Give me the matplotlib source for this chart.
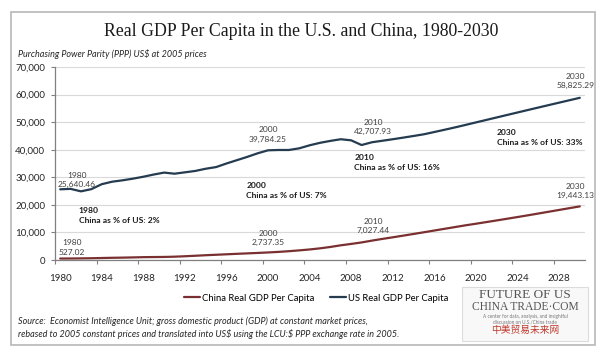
import matplotlib.pyplot as plt
from matplotlib.patches import Rectangle
from matplotlib.ticker import FuncFormatter, FixedLocator

years = list(range(1980, 2031))

us_gdp = [25640, 25800, 24900, 25700, 27500, 28400, 28900, 29500, 30200, 31000,
          31700, 31300, 31800, 32300, 33100, 33700, 35000, 36200, 37400, 38700,
          39784, 39900, 39900, 40500, 41600, 42500, 43200, 43800, 43400, 41700,
          42708, 43250, 43800, 44380, 44980, 45600, 46420, 47250, 48100, 48990,
          49900, 50800, 51700, 52600, 53500, 54400, 55290, 56180, 57060, 57940,
          58825]

china_gdp = [527, 545, 585, 640, 720, 800, 860, 940, 1030, 1070,
             1110, 1200, 1360, 1540, 1730, 1900, 2070, 2240, 2400, 2560,
             2737, 2940, 3190, 3490, 3820, 4230, 4730, 5330, 5830, 6370,
             7027, 7650, 8230, 8830, 9440, 10060, 10690, 11320, 11950, 12580,
             13150, 13750, 14350, 14960, 15580, 16200, 16850, 17500, 18150, 18800,
             19443]

# data labels: (year, value, text)
us_labels = [(1980, 25640.46, "1980\n25,640.46"), (2000, 39784.25, "2000\n39,784.25"),
             (2010, 42707.93, "2010\n42,707.93"), (2030, 58825.29, "2030\n58,825.29")]
china_labels = [(1980, 527.02, "1980\n527.02"), (2000, 2737.35, "2000\n2,737.35"),
                (2010, 7027.44, "2010\n7,027.44"), (2030, 19443.13, "2030\n19,443.13")]
share_notes = [("1980", 2), ("2000", 7), ("2010", 16), ("2030", 33)]

us_color = "#243b50"
china_color = "#7a3030"
text_gray = "#404040"

fig = plt.figure(figsize=(6.02, 3.53), dpi=100)
fig.patch.set_facecolor("white")

# outer frame
fig.patches.append(Rectangle((11 / 602, 8 / 353), 584 / 602, 333 / 353, transform=fig.transFigure,
                             fill=False, edgecolor="#b8b8b8", linewidth=1.2))

ax = fig.add_axes([55 / 602, 93 / 353, 530 / 602, 193 / 353])

ax.plot(years, china_gdp, color=china_color, lw=1.6, label="China Real GDP Per Capita", solid_capstyle="round")
ax.plot(years, us_gdp, color=us_color, lw=1.6, label="US Real GDP Per Capita", solid_capstyle="round")

ax.set_xlim(1979.5, 2030.5)
ax.set_ylim(0, 70000)
ax.set_yticks(range(0, 70001, 10000))
ax.yaxis.set_major_formatter(FuncFormatter(lambda v, p: f"{int(v):,}"))
ax.grid(axis="y", color="#d9d9d9", lw=0.8)
ax.set_axisbelow(True)

# tick marks between categories, labels on categories
ax.xaxis.set_major_locator(FixedLocator([1979.5 + 4 * k for k in range(13)]))
ax.xaxis.set_minor_locator(FixedLocator(list(range(1980, 2029, 4))))
ax.xaxis.set_major_formatter(FuncFormatter(lambda v, p: ""))
ax.xaxis.set_minor_formatter(FuncFormatter(lambda v, p: f"{int(round(v))}"))
ax.tick_params(axis="x", which="major", length=3, color="#808080")
ax.tick_params(axis="x", which="minor", length=0, pad=10, labelsize=7, labelcolor="#262626")
ax.tick_params(axis="y", length=3, color="#808080", labelsize=7, labelcolor="#262626", pad=4)
for lab in ax.get_xticklabels(minor=True) + ax.get_yticklabels():
    lab.set_fontfamily("Lato")

for s in ["top", "right"]:
    ax.spines[s].set_visible(False)
for s in ["left", "bottom"]:
    ax.spines[s].set_color("#808080")
    ax.spines[s].set_linewidth(0.9)

lab_font = dict(fontsize=6.0, color=text_gray, family="Lato", ha="center", va="bottom", linespacing=1.4)
# US data labels
ax.text(1981.6, 26100, us_labels[0][2], **lab_font)
ax.text(2000, 42600, us_labels[1][2], **lab_font)
ax.text(2010.1, 45200, us_labels[2][2], **lab_font)
ax.text(2029.6, 61900, us_labels[3][2], **lab_font)
# China data labels
ax.text(1981.1, 1500, china_labels[0][2], **lab_font)
ax.text(2000, 4900, china_labels[1][2], **lab_font)
ax.text(2010.1, 9300, china_labels[2][2], **lab_font)
ax.text(2029.6, 22000, china_labels[3][2], **lab_font)

note_font = dict(fontsize=6.1, color="#1a1a1a", family="Lato", weight="bold", ha="left", va="top",
                 linespacing=1.6)
note_pos = [(1981.8, 19300), (1997.9, 28400), (2008.3, 38500), (2022.0, 47600)]
for (yr, pct), (nx, ny) in zip(share_notes, note_pos):
    ax.text(nx, ny, f"{yr}\nChina as % of US: {pct}%", **note_font)

ax.legend(loc="upper center", bbox_to_anchor=(0.493, -0.13), ncol=2, frameon=False,
          prop={"family": "Lato", "size": 6.8}, handlelength=1.7, handletextpad=0.2, columnspacing=1.6)

# title and subtitle
fig.text(301 / 602, 1 - 31 / 353, "Real GDP Per Capita in the U.S. and China, 1980-2030",
         ha="center", va="center", fontsize=12.8, family="Liberation Serif", color="#1a1a1a")
fig.text(18 / 602, 1 - 54 / 353, "Purchasing Power Parity (PPP) US\\$ at 2005 prices",
         ha="left", va="center", fontsize=6.5, style="italic", family="Lato", color="#262626")

# source
fig.text(18 / 602, 1 - 321 / 353,
         "Source:  Economist Intelligence Unit; gross domestic product (GDP) at constant market prices,",
         ha="left", va="center", fontsize=6.5, style="italic", family="Lato", color="#262626")
fig.text(18 / 602, 1 - 334 / 353,
         "rebased to 2005 constant prices and translated into US\\$ using the LCU:\\$ PPP exchange rate in 2005.",
         ha="left", va="center", fontsize=6.5, style="italic", family="Lato", color="#262626")

# logo box
fig.patches.append(Rectangle((462 / 602, 12 / 353), 126 / 602, 54 / 353, transform=fig.transFigure,
                             facecolor="#f8f8f8", edgecolor="#dcdcdc", linewidth=0.8))
fig.text(525 / 602, 1 - 295 / 353, "FUTURE OF US", ha="center", va="center", fontsize=9.5,
         family="Liberation Serif", color="#555555")
fig.text(525 / 602, 1 - 307 / 353, "CHINA TRADE·COM", ha="center", va="center", fontsize=8.3,
         family="Liberation Serif", color="#555555")
fig.text(525 / 602, 1 - 319 / 353, "A center for data, analysis, and insightful\ndiscussion on U.S./China trade",
         ha="center", va="center", fontsize=3.4, family="Lato", color="#777777", linespacing=1.1)
fig.text(525 / 602, 1 - 330 / 353, "中美贸易未来网", ha="center", va="center", fontsize=7,
         family="Noto Sans CJK SC", color="#c0392b")

fig.savefig("out.png", dpi=100)
